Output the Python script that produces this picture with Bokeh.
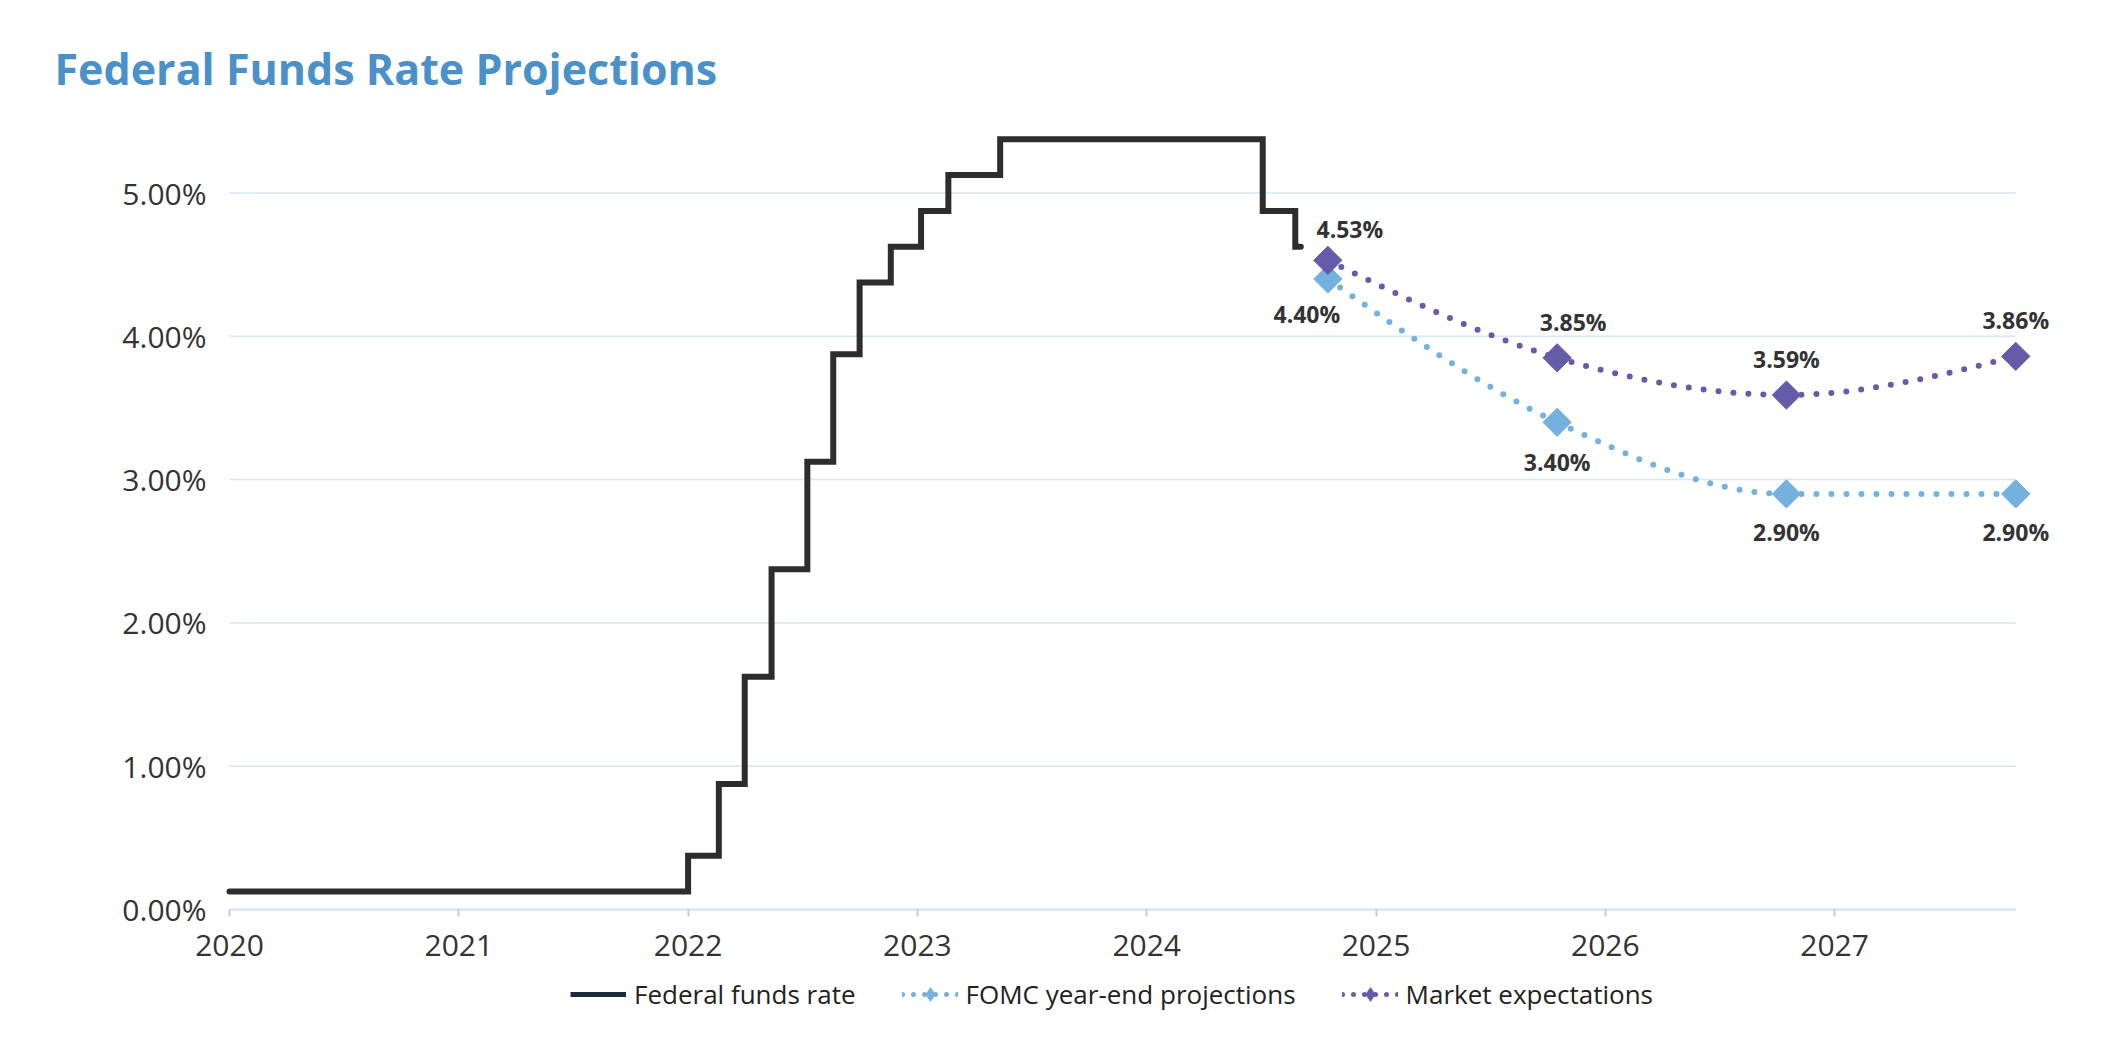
import numpy as np
from bokeh.plotting import figure
from bokeh.models import Range1d, FixedTicker, Legend, LegendItem
from bokeh.core.properties import value
from bokeh.embed import file_html
from bokeh.resources import INLINE

# ---------------- data ----------------
title_text = "Federal Funds Rate Projections"
series_names = ["Federal funds rate", "FOMC year-end projections", "Market expectations"]

# Federal funds rate (mid-point of target range); value holds from each date on
ffr_dates = [2020.0, 2022.0, 2022.134, 2022.247, 2022.364, 2022.52, 2022.633,
             2022.748, 2022.884, 2023.016, 2023.135, 2023.361, 2024.506,
             2024.648, 2024.672]
ffr_rates = [0.125, 0.375, 0.875, 1.625, 2.375, 3.125, 3.875,
             4.375, 4.625, 4.875, 5.125, 5.375, 4.875,
             4.625, 4.625]

proj_dates = [2024.79, 2025.79, 2026.79, 2027.79]
fomc_proj = [4.40, 3.40, 2.90, 2.90]
market_exp = [4.53, 3.85, 3.59, 3.86]

x_ticks = [2020, 2021, 2022, 2023, 2024, 2025, 2026, 2027]
x_tick_labels = ["2020", "2021", "2022", "2023", "2024", "2025", "2026", "2027"]
y_ticks = [0, 1, 2, 3, 4, 5]
y_tick_labels = ["0.00%", "1.00%", "2.00%", "3.00%", "4.00%", "5.00%"]

# label placement (screen px)
market_label_dx = [22, 16, 0, 0]
market_label_dy = [-31, -36, -36, -36]
fomc_label_dx = [-21, 0, 0, 0]
fomc_label_dy = [35, 40, 38, 38]

# ---------------- styles ----------------
C_TITLE = "#4b91c9"
C_FED = "#2d2d2d"
C_FED_LEG = "#1c2a3d"
C_FOMC = "#74b1df"
C_MKT = "#655ba8"
C_GRID = "#d5e7f5"
C_AXIS = "#cfe3f3"
C_TEXT = "#333333"
FONT = "Open Sans"

W, H = 2100, 1050
ORIGIN_X = 229        # pixel column of 2020
ZERO_Y = 909          # pixel row of the 0% line
TOP_Y = 105
RIGHT_X = 2078
PX_PER_PCT = 143.3
PX_PER_YEAR = 229.3

x_start = x_ticks[0] - ORIGIN_X / PX_PER_YEAR
x_end = x_ticks[0] + (RIGHT_X - ORIGIN_X) / PX_PER_YEAR
y_start = -(H - ZERO_Y) / PX_PER_PCT
y_end = (ZERO_Y - TOP_Y) / PX_PER_PCT

p = figure(width=W, height=H, output_backend="svg", toolbar_location=None,
           x_range=Range1d(x_start, x_end), y_range=Range1d(y_start, y_end),
           min_border_left=0, min_border_right=W - RIGHT_X,
           min_border_top=TOP_Y, min_border_bottom=0)
p.outline_line_color = None
p.background_fill_color = "white"
p.border_fill_color = "white"

p.title.text = title_text
p.title.align = "left"
p.title.offset = 54
p.title.standoff = 16
p.title.text_font = FONT
p.title.text_font_style = "bold"
p.title.text_font_size = "43px"
p.title.text_color = C_TITLE

# axes (drawn at the data origin)
p.xaxis.fixed_location = y_ticks[0]
p.xaxis.ticker = FixedTicker(ticks=x_ticks)
p.xaxis.major_label_overrides = dict(zip(x_ticks, x_tick_labels))
p.xaxis.axis_line_color = None
p.xaxis.major_tick_line_color = "#cccccc"
p.xaxis.major_tick_line_width = 2
p.xaxis.major_tick_out = 7
p.xaxis.major_tick_in = 0
p.xaxis.minor_tick_line_color = None
p.xaxis.major_label_standoff = 18
p.xaxis.major_label_text_font = FONT
p.xaxis.major_label_text_font_size = "30px"
p.xaxis.major_label_text_color = C_TEXT

p.yaxis.fixed_location = x_ticks[0]
p.yaxis.ticker = FixedTicker(ticks=y_ticks)
p.yaxis.major_label_overrides = dict(zip(y_ticks, y_tick_labels))
p.yaxis.axis_line_color = None
p.yaxis.major_tick_line_color = None
p.yaxis.minor_tick_line_color = None
p.yaxis.major_tick_out = 0
p.yaxis.major_tick_in = 0
p.yaxis.major_label_standoff = 23
p.yaxis.major_label_text_font = FONT
p.yaxis.major_label_text_font_size = "30px"
p.yaxis.major_label_text_color = C_TEXT

p.xgrid.grid_line_color = None
p.ygrid.grid_line_color = None

# horizontal gridlines and base line, spanning the data's x extent
n_grid = len(y_ticks) - 1
p.segment(x0=[x_ticks[0]] * n_grid, x1=[proj_dates[-1]] * n_grid,
          y0=y_ticks[1:], y1=y_ticks[1:], line_color=C_GRID, line_width=1.5)
p.segment(x0=[x_ticks[0]], x1=[proj_dates[-1]], y0=[y_ticks[0]], y1=[y_ticks[0]],
          line_color=C_AXIS, line_width=2)


# monotone cubic (d3 monotoneX) bezier segments through the data points
def monotone_segments(xs, ys):
    xs = np.asarray(xs, float)
    ys = np.asarray(ys, float)
    n = len(xs)
    h = np.diff(xs)
    s = np.diff(ys) / h
    t = np.zeros(n)
    for i in range(1, n - 1):
        pp = (s[i - 1] * h[i] + s[i] * h[i - 1]) / (h[i - 1] + h[i])
        t[i] = (np.sign(s[i - 1]) + np.sign(s[i])) * min(abs(s[i - 1]), abs(s[i]), 0.5 * abs(pp))
    t[0] = (3 * s[0] - t[1]) / 2
    t[-1] = (3 * s[-1] - t[-2]) / 2
    dx = h / 3
    return dict(x0=xs[:-1], y0=ys[:-1], x1=xs[1:], y1=ys[1:],
                cx0=xs[:-1] + dx, cy0=ys[:-1] + dx * t[:-1],
                cx1=xs[1:] - dx, cy1=ys[1:] - dx * t[1:])


# federal funds rate step line
p.step(ffr_dates, ffr_rates, mode="after", line_color=C_FED, line_width=6,
       line_join="miter", line_cap="round")

# FOMC projections / market expectations (dotted smooth lines)
seg = monotone_segments(proj_dates, fomc_proj)
p.bezier(**seg, line_color=C_FOMC, line_width=6, line_dash="0 15", line_cap="round")
seg = monotone_segments(proj_dates, market_exp)
p.bezier(**seg, line_color=C_MKT, line_width=6, line_dash="0 15", line_cap="round")

p.scatter(proj_dates, fomc_proj, marker="square", angle=np.pi / 4, size=20,
          fill_color=C_FOMC, line_color=C_FOMC)
p.scatter(proj_dates, market_exp, marker="square", angle=np.pi / 4, size=20,
          fill_color=C_MKT, line_color=C_MKT)

# data labels
p.text(proj_dates, market_exp, text=[f"{v:.2f}%" for v in market_exp],
       x_offset=market_label_dx, y_offset=market_label_dy,
       text_align="center", text_baseline="middle",
       text_font=value(FONT), text_font_style="bold", text_font_size="23px",
       text_color=C_TEXT)
p.text(proj_dates, fomc_proj, text=[f"{v:.2f}%" for v in fomc_proj],
       x_offset=fomc_label_dx, y_offset=fomc_label_dy,
       text_align="center", text_baseline="middle",
       text_font=value(FONT), text_font_style="bold", text_font_size="23px",
       text_color=C_TEXT)

# legend proxies (no visible marks in the plot)
nan = np.array([np.nan])
leg_fed = p.line(x=nan, y=nan, line_color=C_FED_LEG, line_width=5)
leg_fomc_l = p.line(x=nan, y=nan, line_color=C_FOMC, line_width=5, line_dash="0 11", line_cap="round")
leg_fomc_m = p.scatter(x=nan, y=nan, marker="diamond", fill_color=C_FOMC, line_color=C_FOMC)
leg_mkt_l = p.line(x=nan, y=nan, line_color=C_MKT, line_width=5, line_dash="0 11", line_cap="round")
leg_mkt_m = p.scatter(x=nan, y=nan, marker="diamond", fill_color=C_MKT, line_color=C_MKT)

legend = Legend(items=[
    LegendItem(label=series_names[0], renderers=[leg_fed]),
    LegendItem(label=series_names[1], renderers=[leg_fomc_l, leg_fomc_m]),
    LegendItem(label=series_names[2], renderers=[leg_mkt_l, leg_mkt_m]),
], orientation="horizontal", location=(570, H - 995 - 17), padding=0, margin=0,
    spacing=46, glyph_width=56, glyph_height=34, label_height=34, label_standoff=8,
    label_text_font=FONT, label_text_font_size="26px", label_text_color="#222222",
    border_line_color=None, background_fill_alpha=0)
p.add_layout(legend, "center")

open("out.html", "w").write(file_html(p, INLINE))
